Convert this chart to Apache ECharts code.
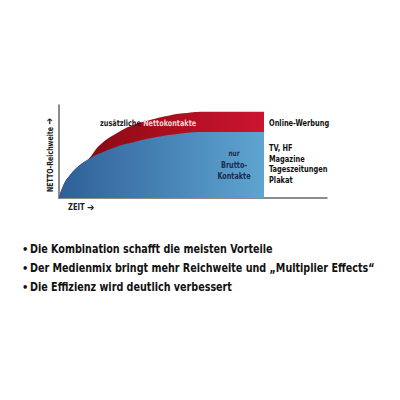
<!DOCTYPE html>
<html>
<head>
<meta charset="utf-8">
<script src="https://cdn.jsdelivr.net/npm/echarts@6/dist/echarts.min.js"></script>
<style>
html,body{margin:0;padding:0;background:#fff;}
#chart{width:400px;height:400px;}
</style>
</head>
<body>
<div id="chart"></div>
<script>
// Net reach over time (relative units 0-100)
var bruttoX = [0, 1.5, 4.1, 7.8, 11.6, 15.3, 21.5, 27.7, 34, 46.4, 55.1, 76.5];
var bruttoY = [0, 13, 24.7, 35.5, 42.7, 48.1, 55.2, 59.9, 64.2, 69.6, 71, 71];
var nettoX = [0, 1.5, 4.1, 7.8, 11, 15.3, 21.5, 27.7, 34, 40.2, 46.4, 55.1, 76.5];
var nettoY = [0, 13, 24.7, 35.5, 42, 57, 69.6, 78.5, 83.9, 88.2, 91.1, 92.8, 92.8];
var rightLabels = ["Online-Werbung", "TV, HF", "Magazine", "Tageszeitungen", "Plakat"];
var bullets = [
  "Die Kombination schafft die meisten Vorteile",
  "Der Medienmix bringt mehr Reichweite und \u201EMultiplier Effects\u201C",
  "Die Effizienz wird deutlich verbessert"
];
var yAxisName = "NETTO-Reichweite";
var xAxisName = "ZEIT";
var arrow = "\u2794";
var redLabelA = "zus\u00E4tzliche ";
var redLabelB = "Nettokontakte";
var blueLabel = ["nur", "Brutto-", "Kontakte"];

function zip(xs, ys){ return xs.map(function(x,i){ return [x, ys[i]]; }); }

var FONT = "'DejaVu Sans Condensed','Liberation Sans Narrow','Arial Narrow',sans-serif";
var chart = echarts.init(document.getElementById('chart'), null, {renderer:'svg'});

var axRich = {t:{fill:'#222', font:"bold 8.5px "+FONT}, ar:{fill:'#222', font:"bold 10px 'DejaVu Sans',sans-serif"}};
var graphics = [];
// y axis name (rotated)
graphics.push({type:'text', x:50, y:155, rotation:Math.PI/2, scaleX:0.82,
  style:{rich:axRich, text:'{t|'+yAxisName+' }{ar|'+arrow+'}', textAlign:'center', textVerticalAlign:'middle'}});
graphics.push({type:'text', x:68, y:207, scaleX:0.88,
  style:{rich:axRich, text:'{t|'+xAxisName+' }{ar|'+arrow+'}', textAlign:'left', textVerticalAlign:'middle'}});
// right labels
var rY = [123, 147.5, 158.3, 169, 180];
rightLabels.forEach(function(t,i){
  graphics.push({type:'text', x:269, y:rY[i], scaleX:0.82,
    style:{text:t, font:"bold 9px "+FONT, fill:'#111', textAlign:'left', textVerticalAlign:'middle'}});
});
// in-area labels
graphics.push({type:'text', x:100, y:123.5, z:10, scaleX:0.85,
  style:{rich:{a:{fill:'#1a1a1a', font:"bold 8.5px "+FONT}, b:{fill:'#f0d2d2', font:"bold 8.5px "+FONT}},
  text:'{a|'+redLabelA+'}{b|'+redLabelB+'}', textAlign:'left', textVerticalAlign:'middle'}});
var bY = [153, 165, 176];
blueLabel.forEach(function(t,i){
  graphics.push({type:'text', x:234, y:bY[i], z:10, scaleX:0.8,
    style:{text:t, font:(i===0?"bold 8px ":"bold 9px ")+FONT, fill:'#1c2c4e', textAlign:'center', textVerticalAlign:'middle'}});
});
// bullets
var bulY = [249, 268, 287];
bullets.forEach(function(t,i){
  graphics.push({type:'text', x:22, y:bulY[i],
    style:{text:'\u2022', font:"bold 11px "+FONT, fill:'#111', textAlign:'left', textVerticalAlign:'middle'}});
  graphics.push({type:'text', x:30, y:bulY[i], scaleX:0.89,
    style:{text:t, font:"bold 12px "+FONT, fill:'#111', textAlign:'left', textVerticalAlign:'middle'}});
});

chart.setOption({
  animation:false,
  grid:{left:59, right:73, top:105, bottom:202, containLabel:false},
  xAxis:{type:'value', min:0, max:100, axisLine:{show:true, lineStyle:{color:'#666', width:1.5}},
    axisTick:{show:false}, axisLabel:{show:false}, splitLine:{show:false}},
  yAxis:{type:'value', min:0, max:100, axisLine:{show:true, lineStyle:{color:'#666', width:1.5}},
    axisTick:{show:false}, axisLabel:{show:false}, splitLine:{show:false}},
  series:[
    {type:'line', data:zip(nettoX, nettoY), smooth:0.5, symbol:'none',
      lineStyle:{width:0}, z:2,
      areaStyle:{opacity:1, color:new echarts.graphic.LinearGradient(0,0,1,0,[
        {offset:0, color:'#7a0a10'},{offset:0.5, color:'#a80e1c'},{offset:1, color:'#cc1530'}])}},
    {type:'line', data:zip(bruttoX, bruttoY), smooth:0.5, symbol:'none',
      lineStyle:{width:0}, z:3,
      areaStyle:{opacity:1, color:new echarts.graphic.LinearGradient(0,0,1,0,[
        {offset:0, color:'#2f5f98'},{offset:1, color:'#5ea5d1'}])}}
  ],
  graphic:graphics
});
</script>
</body>
</html>
